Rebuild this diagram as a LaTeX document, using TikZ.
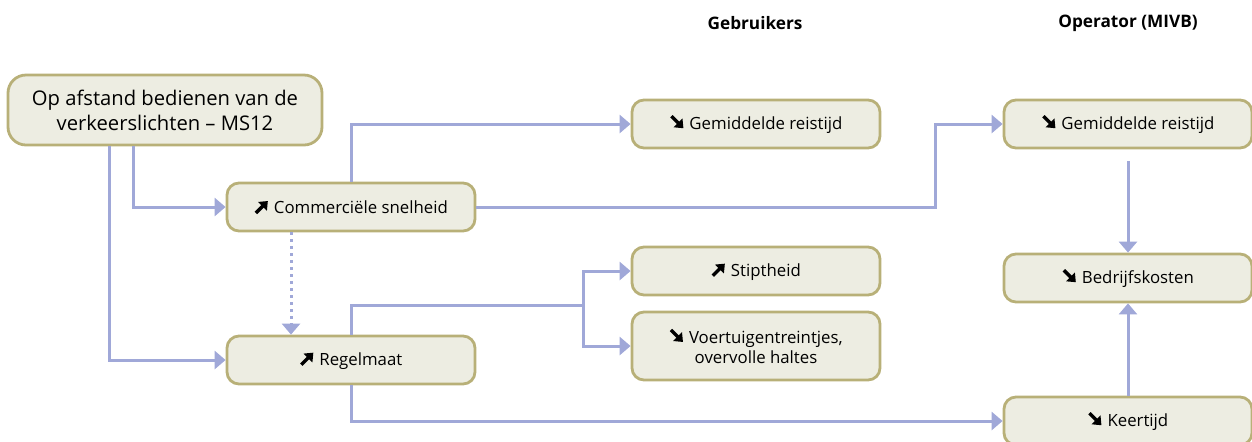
\documentclass[tikz,border=0pt]{standalone}
\usepackage{fontspec}
\setmainfont{Open Sans}
\usetikzlibrary{arrows.meta, positioning, calc}

\definecolor{boxfill}{HTML}{EDEDE2}
\definecolor{boxline}{HTML}{B8B078}
\definecolor{linkblue}{HTML}{A0A8D8}

% small trend arrows used inside the boxes
\newcommand{\trendup}{\tikz[baseline=0pt]\draw[line width=1.7pt,-{Triangle[length=3.8pt,width=6pt]}] (0pt,0.2pt) -- (6pt,6.2pt);}
\newcommand{\trenddown}{\tikz[baseline=0pt]\draw[line width=1.7pt,-{Triangle[length=3.8pt,width=6pt]}] (0pt,6.6pt) -- (6pt,0.6pt);}

\begin{document}
\begin{tikzpicture}[
    x=0.5pt, y=-0.5pt,
    box/.style={
        rectangle, rounded corners=6pt,
        draw=boxline, line width=1.4pt,
        align=center, minimum width=124pt,
        minimum height=24pt, fill=boxfill, inner sep=2pt,
        font=\fontsize{8.4}{10.2}\selectfont},
    bigbox/.style={
        box, rounded corners=9pt,
        minimum width=157pt, minimum height=35pt,
        font=\fontsize{10.1}{12.4}\selectfont},
    head/.style={font=\fontsize{8.6}{10}\selectfont\bfseries},
    link/.style={-{Triangle[length=5.5pt,width=9pt]}, line width=1.5pt, color=linkblue},
    hint/.style={link, dotted}]

\useasboundingbox (0,0) rectangle (1252,441);

% column headings
\node[head] (users) at (755,23)  {Gebruikers};
\node[head] (oper)  at (1128,23) {Operator (MIVB)};

\node[bigbox] (ms12)    at (165,110)  {Op afstand bedienen van de\\verkeerslichten -- MS12};
\node[box]    (speed)   at (351,207)  {\trendup\ Commerciële snelheid};
\node[box]    (regul)   at (351,360)  {\trendup\ Regelmaat};
\node[box]    (travelU) at (756,124)  {\trenddown\ Gemiddelde reistijd};
\node[box]    (punct)   at (756,271)  {\trendup\ Stiptheid};
\node[box, minimum height=34pt] (bunch) at (756,346) {\trenddown\ Voertuigentreintjes,\\overvolle haltes};
\node[box]    (travelO) at (1128,124) {\trenddown\ Gemiddelde reistijd};
\node[box]    (cost)    at (1128,278) {\trenddown\ Bedrijfskosten};
\node[box]    (turn)    at (1128,421) {\trenddown\ Keertijd};

\coordinate (bendO) at (935,124);
\coordinate (fork)  at (583,305);

% effects of the measure
\draw[link] ([xshift=-16pt]ms12.south) |- (speed.west);
\draw[link] ([xshift=-28pt]ms12.south) |- (regul.west);
\draw[hint] ([xshift=-30pt]speed.south) -- ([xshift=-30pt]regul.north);

% users
\draw[link] (speed.north) |- (travelU.west);
\draw[link] (regul.north) |- (fork) |- (punct.west);
\draw[link] (fork) |- (bunch.west);

% operator
\draw[link] (speed.east) -| (bendO) -- (travelO.west);
\draw[link] (regul.south) |- (turn.west);
\draw[link] ([yshift=-6pt]travelO.south) -- (cost.north);
\draw[link] (turn.north) -- (cost.south);

\end{tikzpicture}
\end{document}
